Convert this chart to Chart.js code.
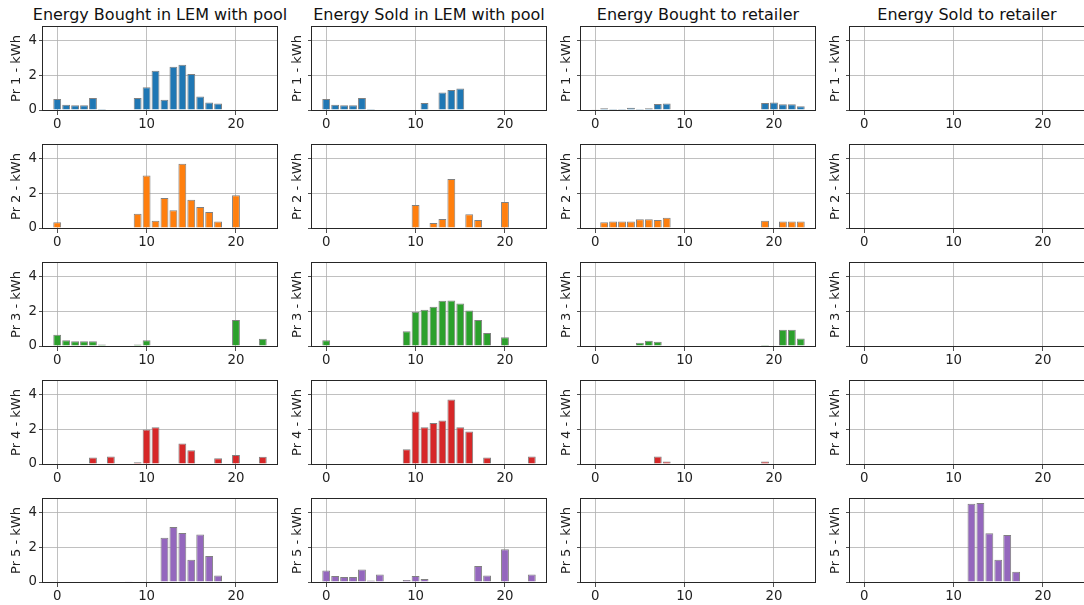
<!DOCTYPE html>
<html><head><meta charset="utf-8">
<script src="https://cdn.jsdelivr.net/npm/chart.js@4.4.1/dist/chart.umd.min.js"></script>
<style>
body{margin:0;background:#fff;width:1084px;height:605px;position:relative;overflow:hidden;font-family:"DejaVu Sans",sans-serif;}
canvas{position:absolute;}
.ttl{position:absolute;top:5px;width:320px;font-size:16px;color:#111;text-align:center;white-space:nowrap;line-height:20px;}
</style></head><body>
<script>
// ---- data ----
const hours = [0,1,2,3,4,5,6,7,8,9,10,11,12,13,14,15,16,17,18,19,20,21,22,23];
const xTicks = [0,10,20];
const yTicks = [0,2,4];
const columnTitles = ["Energy Bought in LEM with pool","Energy Sold in LEM with pool","Energy Bought to retailer","Energy Sold to retailer"];
const prosumers = ["Pr 1","Pr 2","Pr 3","Pr 4","Pr 5"];

const boughtLEM = [
  [0.63,0.30,0.27,0.27,0.69,0.06,0,0,0,0.69,1.31,2.27,0.59,2.50,2.61,2.08,0.78,0.44,0.38,0,0,0,0,0],
  [0.33,0,0,0,0,0,0,0,0,0.83,3.04,0.42,1.73,1.02,3.71,1.63,1.21,0.92,0.37,0,1.90,0,0,0],
  [0.65,0.33,0.27,0.27,0.27,0.08,0,0,0,0.08,0.33,0,0,0,0,0,0,0,0,0,1.50,0,0,0.42],
  [0,0,0,0,0.38,0,0.44,0,0,0.10,2.00,2.12,0,0,1.19,0.79,0,0,0.33,0,0.52,0,0,0.42],
  [0,0,0,0,0,0,0,0,0.02,0,0,0,2.56,3.18,2.83,1.28,2.74,1.51,0.38,0,0,0,0,0]
];
const soldLEM = [
  [0.63,0.30,0.27,0.27,0.69,0.06,0,0,0,0,0,0.40,0,1.01,1.16,1.24,0,0,0,0,0,0,0,0],
  [0,0,0,0,0,0,0,0,0,0,1.33,0,0.29,0.52,2.83,0,0.79,0.46,0,0,1.50,0,0,0],
  [0.33,0,0,0,0,0,0,0,0,0.85,1.98,2.10,2.27,2.62,2.63,2.46,2.06,1.50,0.75,0,0.50,0,0,0],
  [0,0,0,0,0,0,0,0,0,0.85,3.04,2.12,2.37,2.52,3.73,2.12,1.88,0,0.37,0,0,0,0,0.44],
  [0.67,0.34,0.29,0.29,0.72,0.08,0.44,0,0,0.11,0.34,0.17,0,0,0,0,0,0.93,0.38,0,1.90,0,0,0.44]
];
const boughtRetailer = [
  [0.04,0.10,0.06,0.06,0.13,0.06,0.10,0.35,0.38,0,0,0,0,0,0,0,0,0,0,0.40,0.44,0.33,0.33,0.21],
  [0,0.33,0.37,0.37,0.37,0.50,0.50,0.46,0.60,0,0,0,0,0,0,0,0,0,0,0.42,0,0.37,0.37,0.37],
  [0,0,0,0,0,0.19,0.31,0.25,0,0,0,0,0,0,0,0,0,0,0,0.06,0,0.94,0.94,0.44],
  [0,0,0,0,0,0,0,0.44,0.15,0,0,0,0,0,0,0,0,0,0,0.15,0,0,0,0],
  [0,0,0,0,0,0,0,0,0,0,0,0,0,0,0,0,0,0,0,0,0,0,0,0]
];
const soldRetailer = [
  [0,0,0,0,0,0,0,0,0,0,0,0,0,0,0,0,0,0,0,0,0,0,0,0],
  [0,0,0,0,0,0,0,0,0,0,0,0,0,0,0,0,0,0,0,0,0,0,0,0],
  [0,0,0,0,0,0,0,0,0,0,0,0,0,0,0,0,0,0,0,0,0,0,0,0],
  [0,0,0,0,0,0,0,0,0,0,0,0,0,0,0,0,0,0,0,0,0,0,0,0],
  [0,0,0,0,0,0,0,0,0,0,0,0,4.53,4.57,2.82,1.28,2.72,0.59,0,0,0,0,0,0]
];
const columns = [boughtLEM, soldLEM, boughtRetailer, soldRetailer];
const colors = ["#1f77b4","#ff7f0e","#2ca02c","#d62728","#9467bd"];

// ---- layout ----
const plotLefts = [43, 312, 581, 850];
const plotTops = [27, 145, 263, 381, 499];
const PW = 234, PH = 83;
const FONT = "DejaVu Sans";

const frame = {
  id: 'frame',
  afterDraw(chart) {
    const {ctx, chartArea: a} = chart;
    ctx.save();
    ctx.strokeStyle = '#262626';
    ctx.lineWidth = 1;
    ctx.strokeRect(Math.round(a.left) - 0.5, Math.round(a.top) - 0.5,
                   Math.round(a.right - a.left) + 1, Math.round(a.bottom - a.top) + 1);
    ctx.restore();
  }
};

columnTitles.forEach((t, c) => {
  const d = document.createElement('div');
  d.className = 'ttl';
  d.style.left = (plotLefts[c] + PW / 2 - 160) + 'px';
  d.textContent = t;
  document.body.appendChild(d);
});

function zeroPad(s) { s.paddingTop = 0; s.paddingBottom = 0; s.paddingLeft = 0; s.paddingRight = 0; }

function makeChart(col, row) {
  const vals = columns[col][row];
  const cv = document.createElement('canvas');
  cv.width = 43 + PW + 4;
  cv.height = 2 + PH + 24;
  cv.style.left = (plotLefts[col] - 43) + 'px';
  cv.style.top = (plotTops[row] - 2) + 'px';
  document.body.appendChild(cv);
  new Chart(cv, {
    type: 'bar',
    data: {
      datasets: [{
        data: hours.map((h, i) => ({x: h, y: vals[i]})),
        backgroundColor: colors[row],
        borderColor: '#808080',
        borderWidth: ctx => (ctx.raw && ctx.raw.y > 0) ? 1 : 0,
        borderSkipped: 'start',
        inflateAmount: 0,
        barPercentage: 0.88,
        categoryPercentage: 1
      }]
    },
    options: {
      responsive: false,
      animation: false,
      events: [],
      layout: {padding: {top: 2, right: 4, left: 0, bottom: 0}},
      plugins: {legend: {display: false}, tooltip: {enabled: false}},
      scales: {
        x: {
          type: 'linear', min: -1.59, max: 24.59, offset: false,
          afterBuildTicks: s => { s.ticks = xTicks.map(v => ({value: v})); },
          afterFit: s => { s.height = 24; zeroPad(s); },
          grid: {color: '#b0b0b0', lineWidth: 0.8, offset: false, tickColor: '#222', tickLength: 5},
          border: {display: false},
          ticks: {font: {family: FONT, size: 13.3}, color: '#222', padding: 2, maxRotation: 0, autoSkip: false},
          z: 1
        },
        y: {
          min: 0, max: 4.8,
          afterBuildTicks: s => { s.ticks = yTicks.map(v => ({value: v})); },
          afterFit: s => { s.width = 43; zeroPad(s); },
          grid: {color: '#b0b0b0', lineWidth: 0.8, tickColor: '#222', tickLength: 4},
          border: {display: false},
          ticks: {display: col === 0, font: {family: FONT, size: 13.3}, color: '#222', padding: 2},
          title: {display: true, text: prosumers[row] + ' - kWh', font: {family: FONT, size: 13}, color: '#222',
                  padding: {top: col === 0 ? 9 : 21, bottom: 0}},
          z: 1
        }
      }
    },
    plugins: [frame]
  });
}

for (let c = 0; c < 4; c++) for (let r = 0; r < 5; r++) makeChart(c, r);
</script>
</body></html>
